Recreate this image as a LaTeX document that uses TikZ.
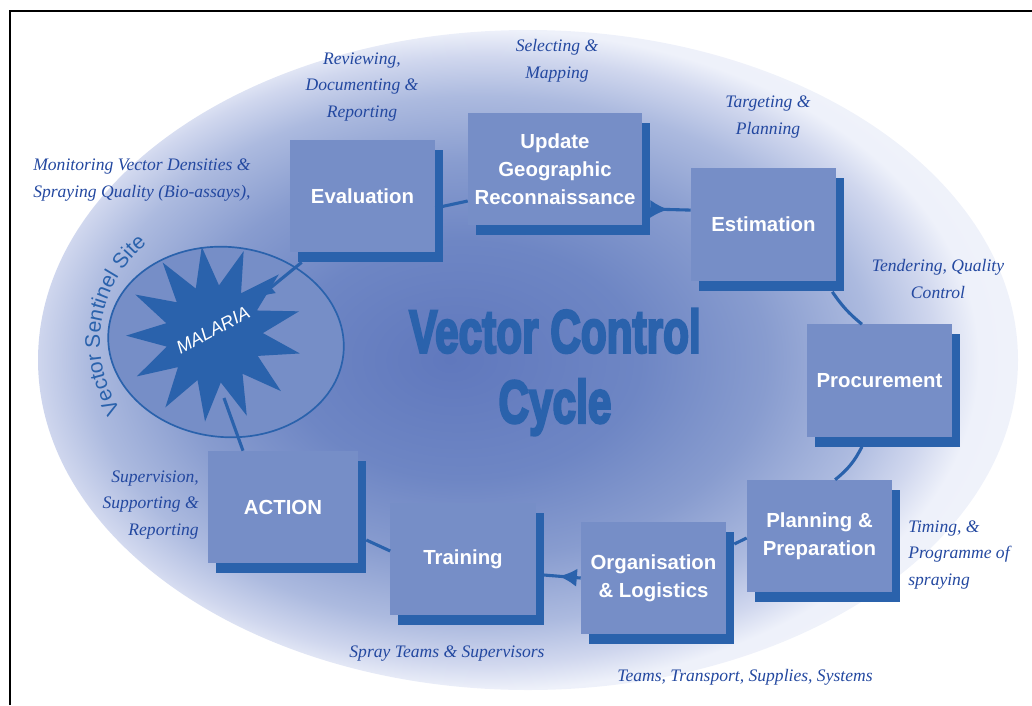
\documentclass[tikz,border=0pt]{standalone}
\usepackage{fontspec}
\setmainfont{Liberation Serif}
\setsansfont{Liberation Sans}
\newfontfamily\titlefont[RawFeature={embolden=4.5}]{Liberation Sans Bold}
\usetikzlibrary{positioning,arrows.meta,shapes.geometric,shadows,backgrounds,
                decorations.text,decorations.markings,calc}
\definecolor{cycblue}{RGB}{42,98,172}
\definecolor{boxfill}{RGB}{118,142,199}
\definecolor{notblue}{RGB}{35,72,160}
\definecolor{glowa}{RGB}{96,120,189}
\definecolor{glowb}{RGB}{110,134,196}
\definecolor{glowc}{RGB}{136,156,207}
\definecolor{glowd}{RGB}{172,186,223}
\definecolor{glowe}{RGB}{208,215,238}
\definecolor{glowf}{RGB}{238,241,250}
\pgfdeclareradialshading{vcglow}{\pgfpoint{-4bp}{0bp}}{color(0bp)=(glowa);
  color(9bp)=(glowb); color(15bp)=(glowc); color(20bp)=(glowd);
  color(23bp)=(glowe); color(25bp)=(glowf); color(50bp)=(white)}

\begin{document}
\begin{tikzpicture}[x=0.025cm,y=-0.025cm,font=\sffamily]
\tikzset{
  stage/.style={fill=boxfill,minimum width=3.625cm,minimum height=2.8cm,text=white,align=center,font=\fontsize{14.5}{20}\selectfont\bfseries\sffamily,drop shadow={shadow xshift=0.2cm,shadow yshift=-0.25cm,fill=cycblue,opacity=1}},
  note/.style={text=notblue,align=center,font=\fontsize{12.5}{19}\selectfont\itshape\rmfamily,inner sep=0pt},
  link/.style={draw=cycblue,line width=2.2pt},
  flowmark/.style={postaction=decorate,decoration={markings,mark=at position #1 with {\arrow{Latex[length=13pt,width=13pt]}}}},
}
\useasboundingbox (0,0) rectangle (1032,705);

\begin{scope}[on background layer]
\shade[shading=vcglow] (528,360) ellipse [x radius=490, y radius=330];
\end{scope}
\draw[line width=1.5pt] (10,705) -- (10,11) -- (1032,11);

% sentinel site
\node[ellipse,draw=cycblue,line width=1.2pt,fill=boxfill,minimum width=5.9cm,minimum height=4.75cm,rotate=-6] (site) at (226,342) {};
\node[star,star points=13,star point ratio=1.8,fill=cycblue,minimum size=4.4cm,inner sep=0pt,rotate=8] (germ) at (214,334) {};
\node[text=white,font=\fontsize{13}{13}\selectfont\itshape\sffamily,rotate=28] (maltext) at (213,330) {MALARIA};
\coordinate (spikeNE) at (258,298);
\coordinate (spikeS) at (224,398);
\path[decorate,decoration={text along path,text align=center,
  text={|\fontsize{15}{15}\selectfont\sffamily\color{cycblue}|Vector Sentinel Site}}]
  (site.center) ++(142:126) arc[start angle=142,end angle=236,radius=126];

% cycle stages
\node[stage] (eval) at (362.5,196) {Evaluation};
\node[stage,minimum width=4.35cm] (update) at (555,169) {Update\\Geographic\\Reconnaissance};
\node[stage] (estim) at (763.5,224.5) {Estimation};
\node[stage] (procure) at (879.5,380.5) {Procurement};
\node[stage] (plan) at (819.5,536) {Planning \&\\Preparation};
\node[stage] (logist) at (653.5,578) {Organisation\\\& Logistics};
\node[stage] (train) at (463,559) {Training};
\node[stage,minimum width=3.75cm] (action) at (283,507) {ACTION};

\node[text=cycblue,font=\fontsize{43}{50}\selectfont\titlefont,xscale=0.7,align=center] (title) at (555,372) {Vector Control\\Cycle};

% connectors
\draw[link] ([yshift=-0.3cm]eval.east) -- ([yshift=-0.8cm]update.west);
\draw[link,flowmark=0.45] ([yshift=-1cm,xshift=0.2cm]update.east) -- ([yshift=0.36cm]estim.west);
\draw[link] ([xshift=-0.1cm,yshift=-0.275cm]estim.south east) to[bend right=8] ([xshift=-0.44cm]procure.north);
\draw[link] ([xshift=-0.44cm,yshift=-0.25cm]procure.south) to[bend left=12] ([xshift=0.39cm]plan.north);
\draw[link] ([yshift=-0.05cm]plan.west) -- ([xshift=0.2cm,yshift=0.85cm]logist.east);
\draw[link,flowmark=0.6] (logist.west) -- ([xshift=0.2cm,yshift=-0.4cm]train.east);
\draw[link] ([yshift=0.2cm]train.west) -- ([xshift=0.2cm,yshift=-0.825cm]action.east);
\draw[link] ([xshift=-1cm]action.north) -- (spikeS);
\draw[link,-{Latex[length=12pt,width=11pt]}] ([xshift=0.3cm,yshift=-0.25cm]eval.south west) -- (spikeNE);

% notes
\node[note] (revnote) at (362,87) {Reviewing,\\Documenting \&\\Reporting};
\node[note] (selnote) at (557,61) {Selecting \&\\Mapping};
\node[note] (tgtnote) at (768,117) {Targeting \&\\Planning};
\node[note] (tendnote) at (938,279) {Tendering, Quality\\Control};
\node[note,align=left,anchor=west] (monnote) at (33,180) {Monitoring Vector Densities \&\\Spraying Quality (Bio-assays),};
\node[note,align=right,anchor=east] (supnote) at (199,505) {Supervision,\\Supporting \&\\Reporting};
\node[note] (spraynote) at (447,654) {Spray Teams \& Supervisors};
\node[note] (teamnote) at (745,677) {Teams, Transport, Supplies, Systems};
\node[note,align=left,anchor=west] (timenote) at (908,555) {Timing, \&\\Programme of\\spraying};
\end{tikzpicture}
\end{document}
